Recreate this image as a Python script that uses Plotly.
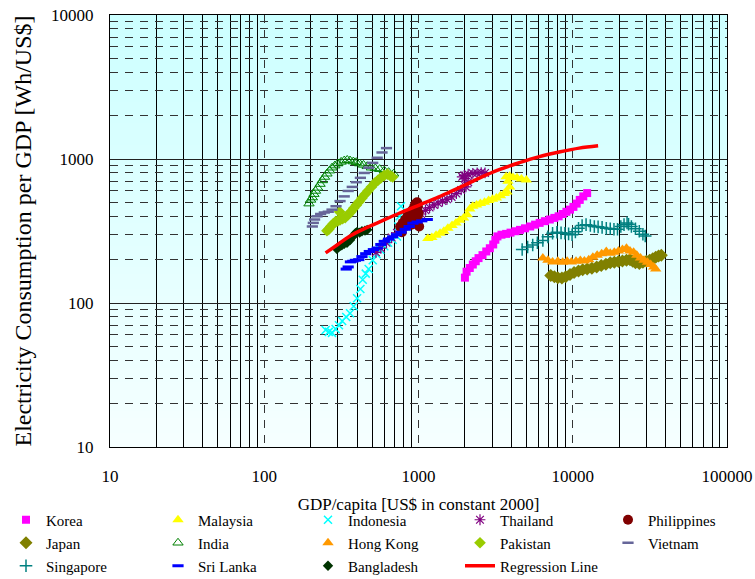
import plotly.graph_objects as go

# ---------------- data (GDP per capita, electricity per GDP) ----------------
korea_gdp = [2000, 2050, 2150, 2250, 2350, 2450, 2600, 2750, 2900, 3050, 3150, 3250, 3450, 3700, 3950, 4250,
             4550, 4900, 5300, 5700, 6100, 6600, 7100, 7600, 8100, 8600, 9100, 9600, 10100, 10600, 11100, 11700, 12400]
korea_elec = [150, 165, 175, 185, 195, 205, 215, 228, 240, 255, 275, 290, 298, 302, 308, 315,
              322, 330, 340, 350, 360, 370, 380, 390, 400, 415, 430, 445, 465, 490, 520, 550, 580]

malaysia_gdp = [1150, 1220, 1300, 1380, 1460, 1550, 1650, 1750, 1850, 1960, 2070, 2150, 2250, 2380, 2520,
                2680, 2850, 3020, 3200, 3400, 3600, 3750, 3900, 3800, 3700, 3900, 4100, 4350, 4650, 5000]
malaysia_elec = [280, 285, 295, 305, 315, 330, 345, 360, 375, 390, 410, 450, 470, 480, 490,
                 500, 515, 525, 535, 555, 575, 590, 640, 700, 752, 760, 745, 740, 725, 715]

indonesia_gdp = [250, 262, 275, 290, 305, 320, 340, 360, 380, 400, 420, 435, 455, 475, 505, 535,
                 565, 600, 635, 680, 725, 740, 755, 770]
indonesia_elec = [65, 63, 62, 66, 70, 75, 80, 85, 95, 108, 125, 145, 160, 172, 198, 218,
                  234, 248, 262, 275, 290, 340, 400, 470]

thailand_gdp = [530, 570, 620, 670, 725, 780, 840, 900, 970, 1040, 1110, 1180, 1260, 1340, 1430,
                1530, 1640, 1760, 1890, 2030, 2100, 2000, 1920, 1980, 2100, 2250, 2400, 2550, 2700]
thailand_elec = [225, 240, 262, 285, 307, 325, 345, 365, 390, 415, 440, 460, 480, 495, 510,
                 525, 545, 575, 610, 640, 690, 730, 752, 770, 785, 795, 800, 805, 800]

philippines_gdp = [760, 790, 820, 850, 880, 910, 940, 960, 980, 990, 970, 940, 910, 890, 870,
                   900, 930, 960, 990, 1000, 980, 960, 940, 920, 900, 880, 780, 1010]
philippines_elec = [340, 360, 380, 400, 420, 440, 470, 490, 500, 470, 440, 410, 390, 370, 360,
                    350, 360, 380, 400, 420, 450, 430, 410, 390, 380, 370, 310, 340]

japan_gdp = [7200, 7600, 8000, 8500, 9000, 9600, 10200, 10900, 11600, 12400, 13300, 14300, 15300, 16400, 17500,
             18600, 19800, 21000, 22300, 23500, 24500, 25500, 27000, 28500, 30000, 31500, 33000, 34500, 36000, 37500]
japan_elec = [155, 152, 150, 149, 152, 158, 163, 167, 170, 172, 174, 178, 182, 186, 190,
              192, 194, 196, 198, 200, 195, 190, 188, 192, 195, 198, 203, 208, 212, 215]

india_gdp = [195, 200, 205, 210, 215, 222, 230, 238, 246, 255, 265, 275, 287, 300, 315,
             330, 345, 360, 378, 395, 415, 440, 465, 495, 525, 560, 600, 640, 690]
india_elec = [490, 520, 540, 570, 600, 630, 670, 710, 750, 790, 830, 870, 900, 930, 955,
              975, 985, 975, 960, 950, 930, 910, 890, 870, 860, 850, 830, 810, 790]

hongkong_gdp = [6400, 6900, 7400, 8000, 8600, 9200, 9800, 10500, 11200, 11900, 12700, 13500, 14400, 15400, 16500,
                17500, 18600, 19800, 21000, 22300, 23500, 24800, 26000, 27500, 29000, 30500, 32000, 33500, 34500]
hongkong_elec = [205, 198, 193, 195, 192, 195, 193, 195, 197, 196, 200, 208, 215, 220, 228,
                 222, 225, 230, 235, 240, 230, 225, 215, 205, 198, 192, 185, 178, 172]

pakistan_gdp = [255, 262, 270, 280, 290, 300, 310, 322, 335, 350, 365, 380, 395, 412, 430,
                450, 470, 495, 520, 545, 570, 600, 630, 660, 680, 308]
pakistan_elec = [318, 325, 340, 355, 367, 372, 378, 385, 392, 410, 430, 455, 478, 505, 535,
                 568, 600, 640, 680, 710, 740, 770, 785, 760, 750, 430]

vietnam_gdp = [205, 208, 212, 220, 232, 245, 260, 275, 292, 310, 330, 350, 372, 395, 420,
               445, 475, 505, 540, 580, 620]
vietnam_elec = [340, 360, 380, 400, 415, 425, 430, 445, 470, 510, 550, 600, 640, 690, 740,
                800, 870, 940, 1020, 1110, 1190]

singapore_gdp = [4700, 5100, 5500, 5900, 6400, 6900, 7400, 7900, 8400, 8900, 9400, 9900, 10400, 10900, 11500,
                 12200, 13000, 13800, 14600, 15500, 16500, 17500, 18500, 19500, 20500, 21500, 22500, 23000,
                 24000, 25500, 27000, 28500, 29500]
singapore_elec = [235, 245, 253, 262, 272, 288, 305, 310, 307, 305, 302, 298, 312, 330, 345,
                  350, 345, 340, 338, 335, 330, 328, 325, 325, 340, 350, 360, 352,
                  340, 328, 315, 300, 292]

srilanka_gdp = [340, 350, 362, 375, 390, 410, 430, 455, 480, 510, 540, 570, 600, 640, 680,
                720, 770, 820, 870, 920, 980, 1050, 1140]
srilanka_elec = [172, 178, 193, 195, 198, 200, 210, 220, 228, 235, 241, 255, 268, 278, 288,
                 298, 310, 325, 340, 358, 365, 372, 380]

bangladesh_gdp = [295, 300, 308, 318, 330, 344, 360, 375, 390, 400, 415, 430, 450, 465]
bangladesh_elec = [238, 242, 248, 252, 258, 262, 274, 290, 305, 312, 308, 315, 318, 322]

regression_gdp = [250, 300, 360, 450, 560, 750, 1020, 1300, 1600, 2000, 2500, 3300, 4500, 6000, 8300, 11000, 14600]
regression_elec = [223, 255, 292, 330, 366, 420, 481, 535, 591, 660, 740, 840, 942, 1035, 1122, 1190, 1236]

x_title = "GDP/capita [US$ in constant 2000]"
y_title = "Electricity Consumption per GDP [Wh/US$]"

# ---------------- styling ----------------
FONT = "Liberation Serif"
W, H = 755, 579
L, R, T, B = 110, 28, 15, 132
PW, PH = W - L - R, H - T - B


def paper_x(px):
    return (px - L) / PW


def paper_y(py):
    return (H - B - py) / PH


series = [
    ("Korea", korea_gdp, korea_elec, dict(symbol="square", size=8, color="#FF00FF")),
    ("Malaysia", malaysia_gdp, malaysia_elec, dict(symbol="triangle-up", size=10, color="#FFFF00")),
    ("Indonesia", indonesia_gdp, indonesia_elec,
     dict(symbol="x-thin", size=8, color="#00FFFF", line=dict(color="#00FFFF", width=1.5))),
    ("Thailand", thailand_gdp, thailand_elec,
     dict(symbol="asterisk", size=9, color="#800080", line=dict(color="#800080", width=1.2))),
    ("Philippines", philippines_gdp, philippines_elec, dict(symbol="circle", size=10, color="#800000")),
    ("Japan", japan_gdp, japan_elec, dict(symbol="diamond", size=10, color="#808000")),
    ("India", india_gdp, india_elec,
     dict(symbol="triangle-up-open", size=9, color="#008000", line=dict(color="#008000", width=1))),
    ("Hong Kong", hongkong_gdp, hongkong_elec, dict(symbol="triangle-up", size=10, color="#FF9900")),
    ("Pakistan", pakistan_gdp, pakistan_elec, dict(symbol="diamond", size=9, color="#99CC00")),
    ("Vietnam", vietnam_gdp, vietnam_elec,
     dict(symbol="line-ew", size=8, color="#666699", line=dict(color="#666699", width=2.5))),
    ("Singapore", singapore_gdp, singapore_elec,
     dict(symbol="cross-thin", size=9, color="#008080", line=dict(color="#008080", width=1.5))),
    ("Sri Lanka", srilanka_gdp, srilanka_elec,
     dict(symbol="line-ew", size=8, color="#0000FF", line=dict(color="#0000FF", width=3))),
    ("Bangladesh", bangladesh_gdp, bangladesh_elec, dict(symbol="diamond", size=8, color="#003300")),
]

col_px = [6, 158, 308, 460, 608]
row_py = [520, 543, 566]

fig = go.Figure()
legend_layout = {}
for i, (name, gx, gy, mk) in enumerate(series + [("Regression Line", regression_gdp, regression_elec, None)]):
    key = "legend" if i == 0 else f"legend{i + 1}"
    if mk is None:
        fig.add_trace(go.Scatter(x=gx, y=gy, name=name, mode="lines", legend=key,
                                 line=dict(color="#FF0000", width=3.5, shape="spline")))
    else:
        fig.add_trace(go.Scatter(x=gx, y=gy, name=name, mode="markers", legend=key, marker=mk))
    r, c = divmod(i, 5)
    legend_layout[key] = dict(
        x=paper_x(col_px[c]), y=paper_y(row_py[r]), xanchor="left", yanchor="middle",
        bgcolor="rgba(0,0,0,0)", borderwidth=0, font=dict(family=FONT, size=15, color="black"),
    )

# background gradient strips
shapes = []
n = 60
for k in range(n):
    t = (k + 0.5) / n
    rr = int(round(246 - (246 - 204) * t))
    shapes.append(dict(type="rect", xref="x domain", yref="y domain", x0=0, x1=1,
                       y0=k / n, y1=min(1, (k + 1) / n + 0.003), layer="below",
                       line=dict(width=0), fillcolor=f"rgb({rr},255,255)"))

fig.update_layout(
    width=W, height=H, template="none",
    margin=dict(l=L, r=R, t=T, b=B, autoexpand=False),
    paper_bgcolor="white", plot_bgcolor="rgba(0,0,0,0)",
    font=dict(family=FONT, size=17, color="black"),
    shapes=shapes, showlegend=True,
    **legend_layout,
)

fig.update_xaxes(
    type="log", range=[1, 5], dtick=1, tickformat="d",
    showline=True, mirror=True, linecolor="black", linewidth=1,
    ticks="outside", ticklen=14, tickcolor="rgba(0,0,0,0)",
    tickfont=dict(family=FONT, size=17, color="black"),
    showgrid=True, gridcolor="#333333", gridwidth=1, griddash="8px,7px", zeroline=False,
    minor=dict(dtick="D1", showgrid=True, gridcolor="black", gridwidth=1, griddash="solid", ticks=""),
    title=dict(text=x_title, font=dict(family=FONT, size=17, color="black"), standoff=12),
    automargin=False,
)
fig.update_yaxes(
    type="log", range=[1, 4], dtick=1, tickformat="d",
    showline=True, mirror=True, linecolor="black", linewidth=1,
    ticks="outside", ticklen=12, tickcolor="rgba(0,0,0,0)",
    tickfont=dict(family=FONT, size=17, color="black"),
    showgrid=True, gridcolor="#222222", gridwidth=1, griddash="solid", zeroline=False,
    minor=dict(dtick="D1", showgrid=True, gridcolor="#333333", gridwidth=1, griddash="8px,7px", ticks=""),
    title=dict(text=y_title, font=dict(family=FONT, size=24, color="black"), standoff=12),
    automargin=False,
)

fig.write_html("out.html", config={"displayModeBar": False},
               post_script="document.body.style.margin='0';")
